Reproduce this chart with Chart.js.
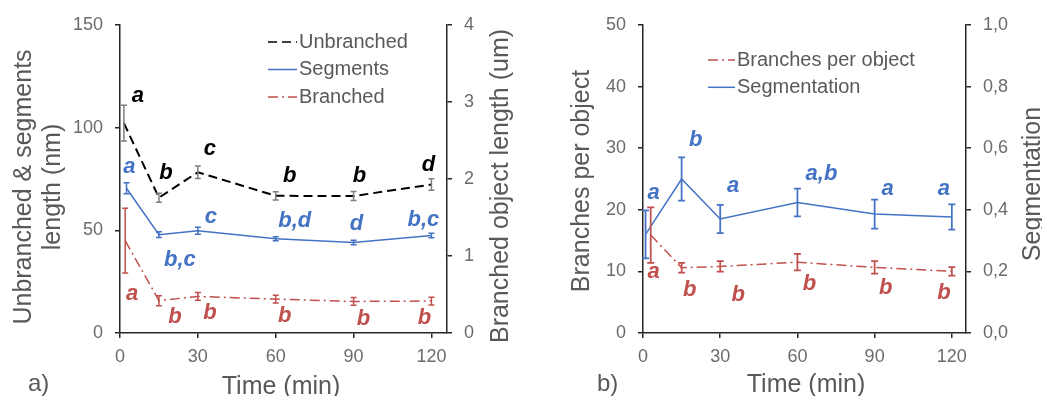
<!DOCTYPE html>
<html>
<head>
<meta charset="utf-8">
<script src="https://cdn.jsdelivr.net/npm/chart.js@4/dist/chart.umd.min.js"></script>
<style>
  body { margin: 0; background: #fff; width: 1042px; height: 396px; overflow: hidden; position: relative; }
  .panel { position: absolute; top: 0; height: 396px; }
</style>
</head>
<body>
<div class="panel" style="left:0;width:520px"><canvas id="chartA" width="520" height="396"></canvas></div>
<div class="panel" style="left:520px;width:522px"><canvas id="chartB" width="522" height="396"></canvas></div>
<script>
// tick labels
const timeTicks = [0, 30, 60, 90, 120];

// panel a) lengths
const timesUnbranched = [1.5, 15, 30, 60, 90, 120];
const unbranched = [102.2, 65.9, 78.3, 66.8, 66.7, 72.3];
const unbranchedErr = [8.7, 2.2, 3.0, 2.0, 2.2, 2.8];
const lettersUnbranched = ['a', 'b', 'c', 'b', 'b', 'd'];

const timesSegments = [2.5, 15, 30, 60, 90, 120];
const segments = [70.5, 47.9, 49.8, 45.9, 44.1, 47.5];
const segmentsErr = [2.7, 1.4, 1.7, 1.0, 1.1, 1.1];
const lettersSegments = ['a', 'b,c', 'c', 'b,d', 'd', 'b,c'];

const timesBranched = [2, 15, 30, 60, 90, 120];
const branched = [1.2, 0.42, 0.475, 0.44, 0.41, 0.415];
const branchedErr = [0.42, 0.065, 0.05, 0.05, 0.05, 0.05];
const lettersBranched = ['a', 'b', 'b', 'b', 'b', 'b'];

// panel b) branching
const timesBranches = [3, 15, 30, 60, 90, 120];
const branchesPerObject = [15.9, 10.6, 10.8, 11.5, 10.65, 10.0];
const branchesErr = [4.5, 0.8, 0.85, 1.35, 1.0, 0.7];
const lettersBranches = ['a', 'b', 'b', 'b', 'b', 'b'];

const timesSegmentation = [1, 15, 30, 60, 90, 120];
const segmentation = [0.32, 0.50, 0.37, 0.424, 0.386, 0.377];
const segmentationErr = [0.078, 0.07, 0.046, 0.045, 0.047, 0.041];
const lettersSegmentation = ['a', 'b', 'a', 'a,b', 'a', 'a'];

const FONT = "'Liberation Sans', Arial, sans-serif";
const AXIS = '#262626';
const GREY = '#595959';
const TICK = '#6b6b6b';
const BLUE = '#4472C4';
const RED = '#C0504D';

Chart.defaults.font.family = FONT;

const pts = (xs, ys) => xs.map((x, i) => ({ x: x, y: ys[i] }));

// error bars drawn from each dataset's errors array
const errorBars = {
  id: 'errorBars',
  afterDatasetsDraw(chart, args, opts) {
    const ctx = chart.ctx;
    chart.data.datasets.forEach((ds, i) => {
      if (!ds.errors) return;
      const meta = chart.getDatasetMeta(i);
      const xs = chart.scales[meta.xAxisID], ys = chart.scales[meta.yAxisID];
      ctx.save();
      ctx.strokeStyle = ds.errorColor;
      ctx.lineWidth = opts.width;
      ctx.setLineDash([]);
      ds.data.forEach((p, j) => {
        const px = xs.getPixelForValue(p.x);
        const top = ys.getPixelForValue(p.y + ds.errors[j]);
        const bot = ys.getPixelForValue(p.y - ds.errors[j]);
        ctx.beginPath();
        ctx.moveTo(px, top); ctx.lineTo(px, bot);
        ctx.moveTo(px - opts.cap, top); ctx.lineTo(px + opts.cap, top);
        ctx.moveTo(px - opts.cap, bot); ctx.lineTo(px + opts.cap, bot);
        ctx.stroke();
      });
      ctx.restore();
    });
  }
};

// significance letters next to each point
const letterLabels = {
  id: 'letterLabels',
  afterDatasetsDraw(chart) {
    const ctx = chart.ctx;
    chart.data.datasets.forEach((ds, i) => {
      if (!ds.letters) return;
      const meta = chart.getDatasetMeta(i);
      const xs = chart.scales[meta.xAxisID], ys = chart.scales[meta.yAxisID];
      ctx.save();
      ctx.fillStyle = ds.letterColor;
      ctx.font = 'italic bold 22px ' + FONT;
      ctx.textAlign = 'center';
      ctx.textBaseline = 'middle';
      ds.data.forEach((p, j) => {
        const off = ds.letterOffsets[j];
        ctx.fillText(ds.letters[j], xs.getPixelForValue(p.x) + off[0], ys.getPixelForValue(p.y) + off[1]);
      });
      ctx.restore();
    });
  }
};

// legend inside the plot + axis titles + panel tag
const panelText = {
  id: 'panelText',
  afterDraw(chart, args, opts) {
    const ctx = chart.ctx;
    ctx.save();
    const lg = opts.legend;
    chart.data.datasets.forEach((ds, i) => {
      const y = lg.y + i * lg.row;
      ctx.strokeStyle = ds.borderColor;
      ctx.lineWidth = 1.5;
      ctx.setLineDash(ds.borderDash || []);
      ctx.beginPath();
      ctx.moveTo(lg.x, y); ctx.lineTo(lg.x + lg.len, y);
      ctx.stroke();
      ctx.setLineDash([]);
      ctx.fillStyle = GREY;
      ctx.font = '20px ' + FONT;
      ctx.textAlign = 'left';
      ctx.textBaseline = 'middle';
      ctx.fillText(ds.label, lg.x + lg.len + 2, y);
    });
    opts.items.forEach(t => {
      ctx.save();
      ctx.fillStyle = GREY;
      ctx.font = t.size + 'px ' + FONT;
      ctx.textAlign = t.align || 'center';
      ctx.textBaseline = 'alphabetic';
      ctx.translate(t.x, t.y);
      if (t.up) ctx.rotate(-Math.PI / 2);
      ctx.fillText(t.text, 0, 0);
      ctx.restore();
    });
    ctx.restore();
  }
};

function yAxis(position, max, step, width, fmt) {
  return {
    type: 'linear', position: position, min: 0, max: max,
    afterFit: s => { s.width = width; },
    grid: { drawOnChartArea: false, drawTicks: true, tickLength: 5, color: AXIS, lineWidth: 1.5 },
    border: { color: AXIS, width: 1.5 },
    ticks: { stepSize: step, padding: 12, color: TICK, font: { size: 18 }, callback: fmt }
  };
}

function xAxis(max) {
  return {
    type: 'linear', min: 0, max: max,
    afterFit: s => { s.height = 63; },
    afterBuildTicks: s => { s.ticks = timeTicks.map(v => ({ value: v })); },
    grid: { drawOnChartArea: false, drawTicks: true, tickLength: 5, color: AXIS, lineWidth: 1.5 },
    border: { color: AXIS, width: 1.5 },
    ticks: { padding: 8, color: TICK, font: { size: 18 }, maxRotation: 0 }
  };
}

const baseOptions = {
  responsive: false,
  animation: false,
  events: [],
  layout: { padding: { top: 25, left: 0, right: 0, bottom: 0 } },
  plugins: { legend: { display: false }, tooltip: { enabled: false } }
};

new Chart(document.getElementById('chartA'), {
  type: 'line',
  data: {
    datasets: [
      {
        label: 'Unbranched', yAxisID: 'y',
        data: pts(timesUnbranched, unbranched),
        errors: unbranchedErr, errorColor: '#7f7f7f',
        letters: lettersUnbranched, letterColor: '#000',
        letterOffsets: [[14, -27], [7, -25], [12, -23], [14, -20], [6, -20], [-3, -20]],
        borderColor: '#000', borderWidth: 2, borderDash: [9, 5], pointRadius: 0, tension: 0
      },
      {
        label: 'Segments', yAxisID: 'y',
        data: pts(timesSegments, segments),
        errors: segmentsErr, errorColor: BLUE,
        letters: lettersSegments, letterColor: BLUE,
        letterOffsets: [[3, -21], [21, 25], [13, -14], [19, -18], [3, -19], [-8, -16]],
        borderColor: BLUE, borderWidth: 1.5, pointRadius: 0, tension: 0
      },
      {
        label: 'Branched', yAxisID: 'y1',
        data: pts(timesBranched, branched),
        errors: branchedErr, errorColor: RED,
        letters: lettersBranched, letterColor: RED,
        letterOffsets: [[7, 53], [16, 16], [12, 17], [9, 17], [10, 18], [-7, 17]],
        borderColor: RED, borderWidth: 1.5, borderDash: [10, 4, 2, 4], pointRadius: 0, tension: 0
      }
    ]
  },
  options: Object.assign({}, baseOptions, {
    scales: {
      x: xAxis(126),
      y: yAxis('left', 150, 50, 120),
      y1: yAxis('right', 4, 1, 73)
    },
    plugins: Object.assign({}, baseOptions.plugins, {
      errorBars: { width: 1.5, cap: 3 },
      panelText: {
        legend: { x: 268, y: 42, row: 27.5, len: 29 },
        items: [
          { text: 'Unbranched & segments', x: 31, y: 187, up: true, size: 25 },
          { text: 'length (nm)', x: 60, y: 187, up: true, size: 25 },
          { text: 'Branched object length (um)', x: 508, y: 186, up: true, size: 25 },
          { text: 'Time (min)', x: 281, y: 394, size: 25 },
          { text: 'a)', x: 28, y: 391, size: 24, align: 'left' }
        ]
      }
    })
  }),
  plugins: [errorBars, letterLabels, panelText]
});

new Chart(document.getElementById('chartB'), {
  type: 'line',
  data: {
    datasets: [
      {
        label: 'Branches per object', yAxisID: 'y',
        data: pts(timesBranches, branchesPerObject),
        errors: branchesErr, errorColor: RED,
        letters: lettersBranches, letterColor: RED,
        letterOffsets: [[3, 37], [8, 22], [18, 28], [12, 22], [11, 21], [-8, 22]],
        borderColor: RED, borderWidth: 1.5, borderDash: [10, 4, 2, 4], pointRadius: 0, tension: 0
      },
      {
        label: 'Segmentation', yAxisID: 'y1',
        data: pts(timesSegmentation, segmentation),
        errors: segmentationErr, errorColor: BLUE,
        letters: lettersSegmentation, letterColor: BLUE,
        letterOffsets: [[8, -42], [14, -39], [13, -33], [24, -28], [13, -25], [-8, -28]],
        borderColor: BLUE, borderWidth: 1.5, pointRadius: 0, tension: 0
      }
    ]
  },
  options: Object.assign({}, baseOptions, {
    scales: {
      x: xAxis(125.5),
      y: yAxis('left', 50, 10, 123),
      y1: yAxis('right', 1, 0.2, 76, v => v.toFixed(1).replace('.', ','))
    },
    plugins: Object.assign({}, baseOptions.plugins, {
      errorBars: { width: 1.75, cap: 3.5 },
      panelText: {
        legend: { x: 188, y: 60, row: 27.3, len: 27 },
        items: [
          { text: 'Branches per object', x: 69, y: 181, up: true, size: 25 },
          { text: 'Segmentation', x: 520, y: 184, up: true, size: 25 },
          { text: 'Time (min)', x: 286, y: 392, size: 25 },
          { text: 'b)', x: 77, y: 391, size: 24, align: 'left' }
        ]
      }
    })
  }),
  plugins: [errorBars, letterLabels, panelText]
});
</script>
</body>
</html>
